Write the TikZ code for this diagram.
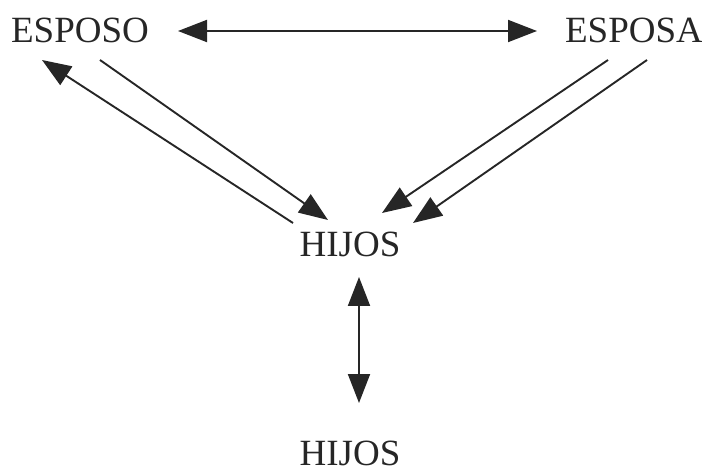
\documentclass[tikz,border=0pt]{standalone}
\usepackage{fontspec}
\setmainfont{Liberation Serif}
\usetikzlibrary{arrows.meta}
\begin{document}
\begin{tikzpicture}[x=1pt,y=-1pt,
  lbl/.style={anchor=base,inner sep=0pt,font=\fontsize{37}{40}\selectfont,text=black!85},
  conn/.style={line width=1.9pt,draw=black!85,-{Triangle[length=29pt,width=22pt]}},
  dconn/.style={line width=1.9pt,draw=black!85,{Triangle[length=29pt,width=22pt]}-{Triangle[length=29pt,width=22pt]}}]
\useasboundingbox (0,0) rectangle (702,473);
\node[lbl] (esposo) at (80,43) {ESPOSO};
\node[lbl] (esposa) at (634,43) {ESPOSA};
\node[lbl] (hijos) at (350,257) {HIJOS};
\node[lbl] (hijos2) at (350,465) {HIJOS};
% endpoints
\coordinate (h1) at (178,31);
\coordinate (h2) at (537,31);
\coordinate (a1tip) at (42,60);
\coordinate (a1tail) at (293,223);
\coordinate (a2tail) at (100,60);
\coordinate (a2tip) at (328,220);
\coordinate (a3tail) at (608,60);
\coordinate (a3tip) at (382,213);
\coordinate (a4tail) at (647,60);
\coordinate (a4tip) at (413,223);
\coordinate (v1) at (359,277);
\coordinate (v2) at (359,403);
\draw[dconn] (h1) -- (h2);
\draw[conn] (a1tail) -- (a1tip);
\draw[conn] (a2tail) -- (a2tip);
\draw[conn] (a3tail) -- (a3tip);
\draw[conn] (a4tail) -- (a4tip);
\draw[dconn] (v1) -- (v2);
\end{tikzpicture}
\end{document}
